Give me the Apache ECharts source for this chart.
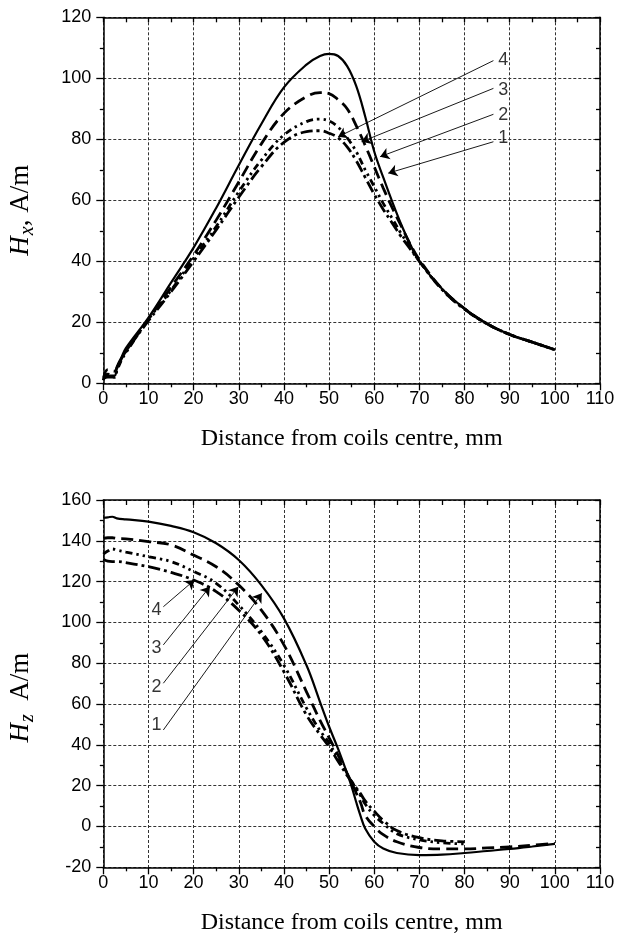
<!DOCTYPE html>
<html>
<head>
<meta charset="utf-8">
<title>Hx and Hz vs distance from coils centre</title>
<script src="https://cdn.jsdelivr.net/npm/echarts@6/dist/echarts.min.js"></script>
<style>
    html, body { margin: 0; padding: 0; background: #fff; }
    #chart { width: 628px; height: 938px; }
</style>
</head>
<body>
<div id="chart"></div>
<script>
// ---- upper plot: Hx, A/m ----
var xTop = [0, 1, 2.5, 3, 4, 5, 10, 15, 20, 25, 30, 35, 40, 45, 48, 50, 52, 54, 56, 58, 60, 62, 64, 66, 68, 70, 75, 80, 85, 90, 95, 100];
var hx1 = [1.5, 2.5, 2.5, 5.5, 8.5, 11.5, 21.5, 33, 44.5, 57.5, 71.5, 85, 97, 104.5, 107.3, 108, 107.3, 104, 97.5, 87.5, 76, 67.5, 59.5, 52, 45.5, 40, 31, 24.5, 19.5, 16, 13.5, 11];
var hx2 = [1, 4.5, 4, 5, 8, 10.5, 21, 31.5, 42, 53.5, 66, 78.5, 88.5, 94, 95.3, 95, 93, 90, 84.5, 78, 71, 64, 57.5, 51.5, 45.5, 40.5, 31, 24.5, 19.5, 16, 13.5, 11];
var hx3 = [2, 3, 2, 4, 7.5, 10, 21, 30.5, 41, 51.4, 62.8, 73.2, 81.4, 85.8, 86.6, 86, 84, 80.5, 76, 70, 64.5, 59, 54, 49, 44.5, 40, 30.8, 24.3, 19.5, 16, 13.5, 11];
var hx4 = [1.5, 2, 2, 4.5, 8, 10.5, 20.5, 30, 40, 50.3, 61, 71, 79, 82.5, 82.8, 82, 80.5, 77.5, 73, 67.5, 62, 57, 52.5, 48, 44, 40, 30.8, 24.3, 19.5, 16, 13.5, 11];

// ---- lower plot: Hz, A/m (curves 3 and 4 stop at 80 mm) ----
var xBot = [0, 1, 2, 3, 5, 10, 15, 20, 25, 30, 35, 40, 45, 48, 50, 52, 54, 55, 56, 57, 58, 60, 62, 65, 70, 75, 80, 85, 90, 95, 100];
var hz1 = [151.3, 151.5, 151.8, 151, 150.5, 149.4, 147.3, 144.2, 138.8, 130.6, 118.3, 102, 79, 61, 49, 38, 26, 19.5, 12, 5, -1, -7.5, -10.8, -13, -14, -13.8, -13, -12, -11, -9.8, -8.5];
var hz2 = [141.2, 141.5, 141.5, 141.2, 141, 139.6, 138, 133, 127.3, 118.3, 106, 89, 66, 52, 43.5, 35, 26, 21.5, 16.5, 11.5, 5.5, 0, -4, -7.5, -10.3, -11, -11, -10.5, -10, -9.2, -8.3];
var hz3 = [133.5, 135, 136, 135.5, 134.5, 132.2, 129.8, 125, 119.2, 108.5, 95.5, 79, 58, 47, 41, 33, 25.5, 22, 18.5, 15, 11, 5.5, 1.5, -3.5, -6.5, -8, -8.5, null, null, null, null];
var hz4 = [131, 130, 129.8, 129.8, 129.3, 127.3, 124.5, 120.8, 115.1, 106, 93.8, 75.8, 54.6, 45, 39, 32, 25, 22, 19, 16, 12.5, 7.5, 3, -2, -5.5, -7, -7.5, null, null, null, null];

// curve numbers with their leader arrows (data coordinates)
var tags = ['4', '3', '2', '1'];
var topTagAt = [[88.6, 106], [88.6, 96.2], [88.6, 88], [88.6, 80.4]];
var topArrowFrom = [[86.4, 105.8], [86.4, 96.7], [86.4, 88.2], [86.4, 79.2]];
var topArrowTo = [[52, 80.8], [57.2, 79.2], [61.3, 74.3], [63.1, 68.9]];
var botTagAt = [[11.8, 106.1], [11.8, 87.3], [11.8, 68.5], [11.8, 49.7]];
var botArrowFrom = [[13.3, 107.7], [13.3, 89], [13.3, 70.2], [13.3, 47.3]];
var botArrowTo = [[20.2, 120.8], [23.6, 117.5], [29.9, 117.5], [35.1, 114.3]];

var sans = 'Liberation Sans, Arial, sans-serif';
var serif = 'Liberation Serif, Times New Roman, serif';

function pairs(xs, ys) {
    var out = [];
    for (var i = 0; i < xs.length; i++) {
        if (ys[i] != null) out.push([xs[i], ys[i]]);
    }
    return out;
}

// dash patterns: 1 solid, 2 dashed, 3 dash-dot-dot, 4 dash-dot
var styles = [
    { type: 'solid', width: 2.2 },
    { type: [12, 6], width: 2.8 },
    { type: [7, 4, 2.5, 4, 2.5, 4], width: 2.8 },
    { type: [12, 4, 3, 4], width: 2.8 }
];

function curve(name, xs, ys, k, axis) {
    return {
        name: name, type: 'line', xAxisIndex: axis, yAxisIndex: axis,
        data: pairs(xs, ys), symbol: 'none', smooth: 0.4, silent: true,
        lineStyle: { color: '#000', width: styles[k].width, type: styles[k].type }
    };
}

function callouts(tagAt, from, to, axis) {
    var data = [], lines = [];
    for (var i = 0; i < tags.length; i++) {
        data.push([tagAt[i][0], tagAt[i][1], tags[i]]);
        lines.push([{ coord: from[i] }, { coord: to[i] }]);
    }
    return {
        type: 'scatter', xAxisIndex: axis, yAxisIndex: axis, silent: true,
        symbolSize: 1, itemStyle: { color: 'rgba(0,0,0,0)' },
        label: {
            show: true, position: 'inside', color: '#000', fontSize: 18, fontFamily: sans,
            formatter: function (p) { return p.value[2]; }
        },
        data: data,
        markLine: {
            silent: true, symbol: ['none', 'arrow'], symbolSize: 9,
            label: { show: false },
            lineStyle: { color: '#000', width: 0.9, type: 'solid' },
            emphasis: { disabled: true },
            data: lines
        }
    };
}

function xMain(grid) {
    return {
        type: 'value', gridIndex: grid, position: 'bottom', min: 0, max: 110, interval: 10,
        axisLine: { show: true, onZero: false, lineStyle: { color: '#000', width: 1.5 } },
        axisTick: { show: true, inside: false, length: 7, lineStyle: { color: '#000', width: 1.3 } },
        minorTick: { show: true, splitNumber: 2, length: 4, lineStyle: { color: '#000', width: 1.3 } },
        axisLabel: { color: '#000', fontSize: 18, fontFamily: sans, margin: 7 },
        splitLine: { show: true, lineStyle: { color: '#333', type: [3, 2], width: 1 } },
        name: 'Distance from coils centre, mm', nameLocation: 'middle', nameGap: 43,
        nameTextStyle: { color: '#000', fontFamily: serif, fontSize: 24 }
    };
}
function xTopAxis(grid) {
    return {
        type: 'value', gridIndex: grid, position: 'top', min: 0, max: 110, interval: 10,
        axisLine: { show: true, onZero: false, lineStyle: { color: '#000', width: 1.5 } },
        axisTick: { show: true, inside: true, length: 5, lineStyle: { color: '#000', width: 1.3 } },
        minorTick: { show: true, splitNumber: 2, length: 5, lineStyle: { color: '#000', width: 1.3 } },
        axisLabel: { show: false }, splitLine: { show: false }
    };
}
function yMain(grid, min, max, sub, shift) {
    return {
        type: 'value', gridIndex: grid, position: 'left', min: min, max: max, interval: 20,
        axisLine: { show: true, onZero: false, lineStyle: { color: '#000', width: 1.5 } },
        axisTick: { show: true, inside: false, length: 7, lineStyle: { color: '#000', width: 1.3 } },
        minorTick: { show: true, splitNumber: 2, length: 3.5, lineStyle: { color: '#000', width: 1.3 } },
        axisLabel: { color: '#000', fontSize: 18, fontFamily: sans, margin: 12 },
        splitLine: { show: true, lineStyle: { color: '#333', type: [3, 2], width: 1 } },
        name: '{i|H}{s|' + sub + '}{n|' + (sub === 'x' ? ', A/m' : '  A/m') + '}',
        nameLocation: 'middle', nameGap: 66,
        nameTextStyle: {
            color: '#000', fontFamily: serif, fontSize: 27, padding: [0, shift, 0, 0],
            rich: {
                i: { fontFamily: serif, fontSize: 27, fontStyle: 'italic', color: '#000' },
                s: { fontFamily: serif, fontSize: 20, fontStyle: 'italic', color: '#000', padding: [12, 0, 0, 1] },
                n: { fontFamily: serif, fontSize: 27, color: '#000' }
            }
        }
    };
}
function yRight(grid, min, max) {
    return {
        type: 'value', gridIndex: grid, position: 'right', min: min, max: max, interval: 20,
        axisLine: { show: true, onZero: false, lineStyle: { color: '#000', width: 1.5 } },
        axisTick: { show: true, inside: true, length: 5, lineStyle: { color: '#000', width: 1.3 } },
        minorTick: { show: true, splitNumber: 2, length: 4, lineStyle: { color: '#000', width: 1.3 } },
        axisLabel: { show: false }, splitLine: { show: false }
    };
}

var chart = echarts.init(document.getElementById('chart'));
chart.setOption({
    animation: false,
    backgroundColor: '#fff',
    grid: [
        { left: 103.3, top: 17.3, width: 496.7, height: 366, outerBoundsMode: 'none' },
        { left: 103.3, top: 500, width: 496.7, height: 367.3, outerBoundsMode: 'none' }
    ],
    xAxis: [xMain(0), xTopAxis(0), xMain(1), xTopAxis(1)],
    yAxis: [yMain(0, 0, 120, 'x', 20), yRight(0, 0, 120), yMain(1, -20, 160, 'z', 28), yRight(1, -20, 160)],
    series: [
        curve('1', xTop, hx1, 0, 0),
        curve('2', xTop, hx2, 1, 0),
        curve('3', xTop, hx3, 2, 0),
        curve('4', xTop, hx4, 3, 0),
        callouts(topTagAt, topArrowFrom, topArrowTo, 0),
        curve('1', xBot, hz1, 0, 2),
        curve('2', xBot, hz2, 1, 2),
        curve('3', xBot, hz3, 2, 2),
        curve('4', xBot, hz4, 3, 2),
        callouts(botTagAt, botArrowFrom, botArrowTo, 2)
    ]
});
window.addEventListener('resize', function () { chart.resize(); });
</script>
</body>
</html>
